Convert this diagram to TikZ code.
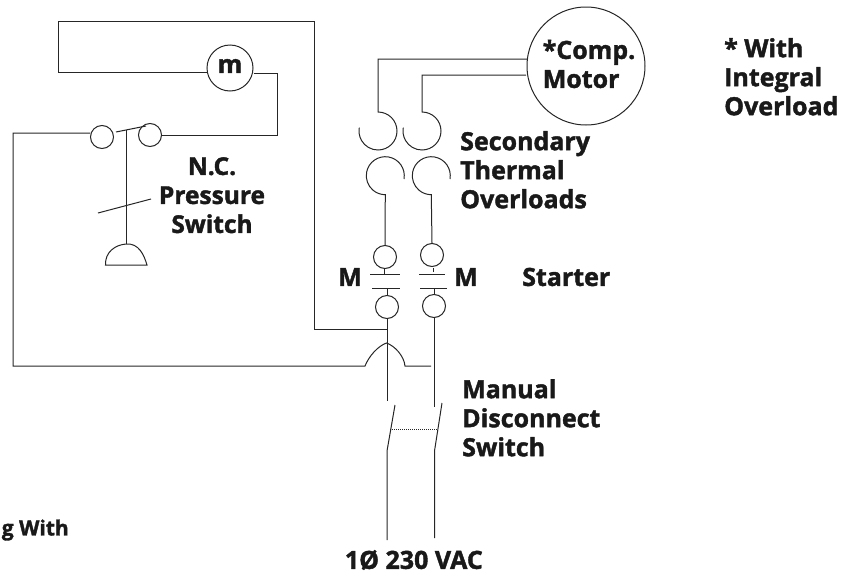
\documentclass[tikz,border=0pt]{standalone}
\usepackage{fontspec}
\setmainfont{Open Sans}[BoldFeatures={FakeBold=1.6}]
\tikzset{
    wire/.style={line width=1pt, color=black!85},
    lbl/.style={font=\bfseries\fontsize{25}{29}\selectfont, color=black!90, align=left, inner sep=0pt},
    contact/.style={circle, draw=black!85, line width=1pt, minimum size=23pt, inner sep=0pt},
}
\begin{document}
\begin{tikzpicture}[x=1pt,y=-1pt]
    \useasboundingbox (0,0) rectangle (844,576);

    % motors
    \node[contact, minimum size=46pt] (fan) at (230,68) {};
    \node[lbl] (fanlabel) at (230,66) {m};
    \node[contact, minimum size=118pt] (comp) at (586,66) {};
    \node[lbl] (complabel) at (589,64) {*Comp.\\Motor};

    % pressure switch
    \node[contact] (psleft) at (102,137) {};
    \node[contact] (psright) at (150,135) {};
    \coordinate (psbar) at (126,130);
    \coordinate (psbulb) at (126,244);
    \draw[wire] (116,132) -- (146,126);
    \draw[wire] (psbar) -- (psbulb);
    \draw[wire] (98,213) -- (151,199);
    \draw[wire] (psbulb) .. controls (115,245) and (105,252) .. (105.5,265) -- (147,265) .. controls (144,255) and (139,243) .. (psbulb);

    % fan loop
    \draw[wire] (fan.west) ++(0,4) -- (58,72) -- (58,21) -- (314,21) -- (314,329) -- (387,329);
    \draw[wire] (fan.east) ++(0,5) -- (277,73) -- (277,135) -- (psright.east);
    \draw[wire] (psleft.west) ++(0,-4) -- (13,133) -- (13,366) -- (365,366)
        .. controls (369,356) and (378,346) .. (386.5,343)
        .. controls (395,346) and (404,356) .. (405,366) -- (431,366);

    % starter
    \node[contact] (ma) at (385,257) {};
    \node[contact] (mb) at (387,307) {};
    \node[contact] (mc) at (432,255) {};
    \node[contact] (md) at (434,306) {};

    % thermal overloads
    \draw[wire] (527,59) -- (378,59) -- (378,112) arc[start angle=-90, end angle=190, radius=19];
    \draw[wire] (526,75) -- (422,75) -- (422,112) arc[start angle=-90, end angle=190, radius=19];
    \draw[wire] (404,179) arc[start angle=10, end angle=-270, radius=19] -- (ma.north);
    \draw[wire] (450,179) arc[start angle=10, end angle=-270, radius=19] -- (mc.north);

    \draw[wire] (370,274) -- (400,274);
    \draw[wire] (372,288) -- (400,288);
    \draw[wire] (419,274) -- (445,274);
    \draw[wire] (420,288) -- (447,288);
    \draw[wire] (384,269) -- (384,274);
    \draw[wire] (387,288) -- (387,295);
    \draw[wire] (433.5,268) -- (433.5,272);
    \draw[wire] (434,288) -- (434,294);
    \draw[wire] (mb.south) -- (387,401);
    \draw[wire] (md.south) -- (434,407);

    % disconnect
    \draw[wire] (395,405) -- (387,451) -- (387,540);
    \draw[wire] (442,403) -- (434.5,451) -- (434.5,538);
    \draw[wire, densely dotted] (390,429) -- (437,429);

    % labels
    \node[lbl, font=\bfseries\fontsize{24.5}{29}\selectfont, align=center, anchor=north] (pslabel) at (212,157) {N.C.\\Pressure\\Switch};
    \node[lbl, anchor=north west] (tolabel) at (460,131) {Secondary\\Thermal\\Overloads};
    \node[lbl] (mleft) at (350,277) {M};
    \node[lbl] (mright) at (466,277) {M};
    \node[lbl, anchor=west] (stlabel) at (522,277) {Starter};
    \node[lbl, anchor=north west] (mdlabel) at (462,379) {Manual\\Disconnect\\Switch};
    \node[lbl, anchor=east] (vaclabel) at (483,560) {1Ø 230 VAC};
    \node[lbl, anchor=north west] (iolabel) at (724,38) {* With\\Integral\\Overload};
    \node[lbl, font=\bfseries\fontsize{21}{25}\selectfont, anchor=east] (cutlabel) at (69,530) {g With};
\end{tikzpicture}
\end{document}
